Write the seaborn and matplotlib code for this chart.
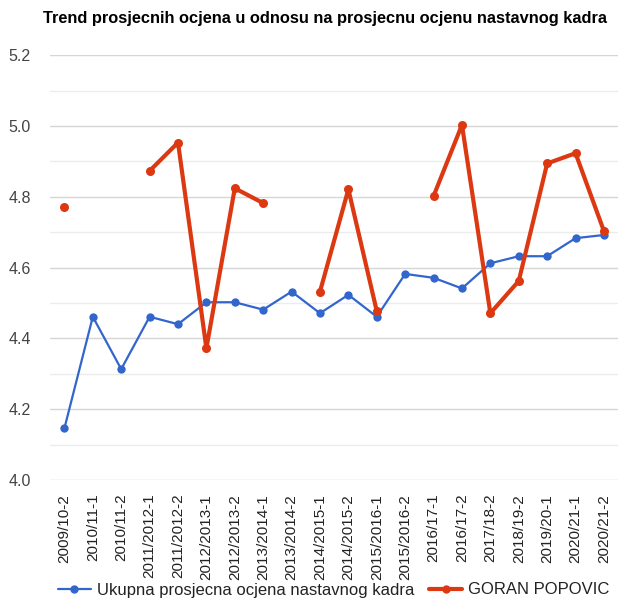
import numpy as np
import pandas as pd
import matplotlib
matplotlib.use("Agg")
import matplotlib.pyplot as plt
from matplotlib.lines import Line2D
from matplotlib.ticker import MultipleLocator
import seaborn as sns

semesters = ["2009/10-2", "2010/11-1", "2010/11-2", "2011/2012-1", "2011/2012-2",
             "2012/2013-1", "2012/2013-2", "2013/2014-1", "2013/2014-2", "2014/2015-1",
             "2014/2015-2", "2015/2016-1", "2015/2016-2", "2016/17-1", "2016/17-2",
             "2017/18-2", "2018/19-2", "2019/20-1", "2020/21-1", "2020/21-2"]
staff_avg = [4.146, 4.461, 4.313, 4.461, 4.44, 4.502, 4.502, 4.481, 4.532, 4.471,
             4.523, 4.461, 4.582, 4.571, 4.541, 4.612, 4.632, 4.632, 4.683, 4.692]
teacher_avg = [4.77, np.nan, np.nan, 4.873, 4.953, 4.372, 4.824, 4.782, np.nan, 4.532,
               4.821, 4.477, np.nan, 4.802, 5.003, 4.471, 4.562, 4.894, 4.923, 4.703]
staff_label = "Ukupna prosjecna ocjena nastavnog kadra"
teacher_label = "GORAN POPOVIC"

blue = "#3366cc"
red = "#dc3912"

sns.set_style("white")
plt.rcParams["font.family"] = ["Liberation Sans", "DejaVu Sans"]

df_staff = pd.DataFrame({"idx": range(len(semesters)), "val": staff_avg})
df_teacher = pd.DataFrame({"idx": range(len(semesters)), "val": teacher_avg})
# split teacher series into contiguous runs so gaps stay open
df_teacher["seg"] = df_teacher["val"].isna().cumsum()
df_teacher = df_teacher.dropna()

fig = plt.figure(figsize=(6.2, 6.06), dpi=100)
ax = fig.add_axes([0.081, 0.208, 0.916, 0.701])

sns.lineplot(data=df_staff, x="idx", y="val", color=blue, linewidth=1.6,
             marker="o", markersize=6, markeredgewidth=0, ax=ax, zorder=3)
sns.lineplot(data=df_teacher, x="idx", y="val", units="seg", estimator=None,
             color=red, linewidth=3.0, marker="o", markersize=6.5,
             markeredgewidth=0, ax=ax, zorder=4, legend=False)

ax.set_ylim(4.0, 5.2)
ax.set_xlim(-0.5, len(semesters) - 0.5)
ax.yaxis.set_major_locator(MultipleLocator(0.2))
ax.yaxis.set_minor_locator(MultipleLocator(0.1))
ax.grid(True, which="major", axis="y", color="#d6d6d6", linewidth=1.0)
ax.grid(True, which="minor", axis="y", color="#ececec", linewidth=1.0)
ax.set_axisbelow(True)
for s in ax.spines.values():
    s.set_visible(False)

ax.set_xticks(range(len(semesters)))
ax.set_xticklabels(semesters, rotation=90, fontsize=11, color="#222222")
ax.tick_params(axis="y", labelsize=11.5, labelcolor="#444444", length=0, pad=14)
ax.tick_params(axis="x", length=0, pad=10)
ax.set_yticklabels([f"{v:.1f}" for v in ax.get_yticks()])
ax.set_xlabel("")
ax.set_ylabel("")

fig.text(43 / 620, 1 - 18 / 606,
         "Trend prosjecnih ocjena u odnosu na prosjecnu ocjenu nastavnog kadra",
         ha="left", va="center", fontsize=11.8, fontweight="bold", color="#000000")

handles = [
    Line2D([0], [0], color=blue, linewidth=1.6, marker="o", markersize=5),
    Line2D([0], [0], color=red, linewidth=3.0, marker="o", markersize=5),
]
fig.legend(handles, [staff_label, teacher_label], loc="center",
           bbox_to_anchor=(0.538, 1 - 590 / 606), ncol=2, frameon=False,
           fontsize=12, handlelength=2.0, handletextpad=0.35, columnspacing=0.9,
           labelcolor="#222222")

fig.savefig("out.png", dpi=100)
